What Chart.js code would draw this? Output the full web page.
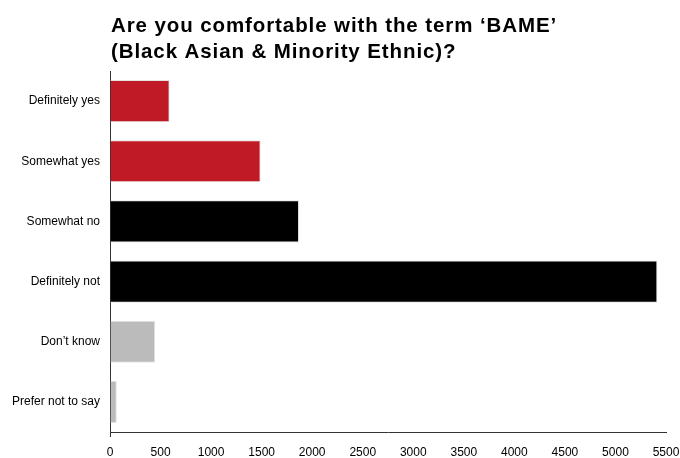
<!DOCTYPE html>
<html>
<head>
<meta charset="utf-8">
<script src="https://cdn.jsdelivr.net/npm/chart.js@4/dist/chart.umd.min.js"></script>
<style>
  html, body { margin: 0; padding: 0; background: #fff; }
  #wrap { width: 680px; height: 458px; }
</style>
</head>
<body>
<div id="wrap"><canvas id="c" width="680" height="458"></canvas></div>
<script>
// Survey answers and respondent counts
const categories = ["Definitely yes", "Somewhat yes", "Somewhat no", "Definitely not", "Don\u2019t know", "Prefer not to say"];
const counts = [590, 1490, 1870, 5415, 447, 67];
const barColors = ["#c01a27", "#c01a27", "#000000", "#000000", "#bbbbbb", "#bbbbbb"];
const titleLines = ["Are you comfortable with the term \u2018BAME\u2019", "(Black Asian & Minority Ethnic)?"];
const xMax = 5500;
const xStep = 500;

const font = "'Liberation Sans', Arial, Helvetica, sans-serif";

// Two-line bold heading, slightly tracked, drawn above the plot
const headingPlugin = {
  id: "heading",
  afterDraw(chart) {
    const ctx = chart.ctx;
    ctx.save();
    ctx.fillStyle = "#000";
    ctx.font = "bold 20.5px " + font;
    if ("letterSpacing" in ctx) ctx.letterSpacing = "0.9px";
    ctx.textAlign = "left";
    ctx.textBaseline = "alphabetic";
    titleLines.forEach((line, i) => ctx.fillText(line, 111, 32 + i * 26));
    ctx.restore();
  }
};

new Chart(document.getElementById("c"), {
  type: "bar",
  data: {
    labels: categories,
    datasets: [{
      data: counts,
      backgroundColor: barColors,
      borderColor: "#e4e4e4",
      borderWidth: 1,
      categoryPercentage: 0.7,
      barPercentage: 1.0
    }]
  },
  plugins: [headingPlugin],
  options: {
    indexAxis: "y",
    responsive: false,
    animation: false,
    layout: { padding: { left: 0, right: 0, top: 71, bottom: 0 } },
    plugins: {
      legend: { display: false },
      tooltip: { enabled: false },
      title: { display: false }
    },
    scales: {
      x: {
        min: 0,
        max: xMax,
        grid: {
          display: true,
          drawOnChartArea: false,
          drawTicks: true,
          tickLength: 5,
          color: (c) => (c.tick && c.tick.value === 0 ? "#333" : "rgba(0,0,0,0)")
        },
        border: { display: true, color: "#333", width: 1 },
        afterFit: (s) => { s.height = 26; s.paddingRight = 14; },
        ticks: {
          stepSize: xStep,
          color: "#000",
          padding: 8,
          font: { family: font, size: 12 },
          callback: (v) => String(v)
        }
      },
      y: {
        grid: { display: false, drawTicks: false },
        border: { display: true, color: "#333", width: 1 },
        afterFit: (s) => { s.width = 110; },
        ticks: {
          color: "#000",
          padding: 10,
          font: { family: font, size: 12 }
        }
      }
    }
  }
});
</script>
</body>
</html>
